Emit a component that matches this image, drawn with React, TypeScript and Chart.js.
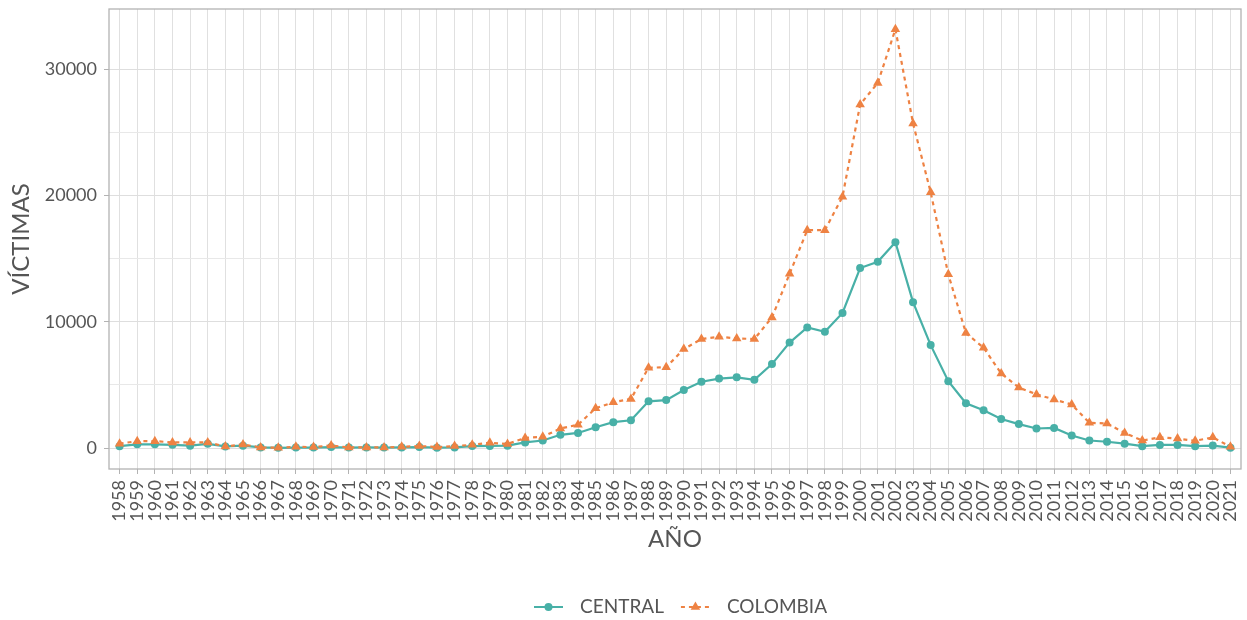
import React, { useEffect, useRef } from "react";
import { Chart, registerables } from "chart.js";

Chart.register(...registerables);

const years = [
  1958, 1959, 1960, 1961, 1962, 1963, 1964, 1965, 1966, 1967, 1968, 1969, 1970,
  1971, 1972, 1973, 1974, 1975, 1976, 1977, 1978, 1979, 1980, 1981, 1982, 1983,
  1984, 1985, 1986, 1987, 1988, 1989, 1990, 1991, 1992, 1993, 1994, 1995, 1996,
  1997, 1998, 1999, 2000, 2001, 2002, 2003, 2004, 2005, 2006, 2007, 2008, 2009,
  2010, 2011, 2012, 2013, 2014, 2015, 2016, 2017, 2018, 2019, 2020, 2021,
];

const central = [
  150, 300, 300, 260, 190, 340, 130, 190, 50, 20, 40, 40, 80,
  40, 50, 40, 50, 80, 30, 50, 160, 170, 190, 450, 600, 1050,
  1200, 1650, 2050, 2200, 3700, 3800, 4600, 5250, 5500, 5600, 5400, 6650, 8350,
  9550, 9200, 10700, 14250, 14750, 16300, 11550, 8150, 5300, 3550, 3000, 2300, 1900,
  1550, 1600, 1000, 600, 500, 350, 150, 250, 250, 150, 200, 30,
];

const colombia = [
  350, 550, 550, 450, 450, 450, 130, 290, 50, 30, 100, 80, 210,
  50, 50, 50, 100, 160, 80, 160, 260, 420, 330, 800, 900, 1550,
  1850, 3150, 3630, 3890, 6360, 6400, 7840, 8630, 8810, 8680, 8630, 10340, 13800,
  17250, 17250, 19900, 27200, 28900, 33150, 25700, 20250, 13750, 9100, 7950, 5900, 4800,
  4250, 3850, 3450, 2000, 1950, 1200, 600, 850, 750, 580, 850, 100,
];

const yTickValues = [0, 5000, 10000, 15000, 20000, 25000, 30000];
const yLabeled = [0, 10000, 20000, 30000];

const seriesNames = ["CENTRAL", "COLOMBIA"];
const TEAL = "#48b0a7";
const ORANGE = "#ee8243";
const TEXT = "#555555";
const FONT = "Lato, 'Open Sans', sans-serif";

const framePlugin = {
  id: "frameAndLegend",
  afterDraw(chart: any) {
    const { ctx, chartArea } = chart;
    ctx.save();
    ctx.strokeStyle = "#b3b3b3";
    ctx.lineWidth = 1.3;
    ctx.strokeRect(
      chartArea.left,
      chartArea.top,
      chartArea.right - chartArea.left,
      chartArea.bottom - chartArea.top
    );

    const y = 607;
    ctx.font = `19px ${FONT}`;
    ctx.textBaseline = "middle";
    ctx.textAlign = "left";
    const keyW = 29;
    const gap = 17;
    const w1 = ctx.measureText(seriesNames[0]).width;
    const w2 = ctx.measureText(seriesNames[1]).width;
    const total = keyW + gap + w1 + gap + keyW + gap + w2;
    let x = 534 + (293 - total) / 2;

    ctx.strokeStyle = TEAL;
    ctx.lineWidth = 2;
    ctx.setLineDash([]);
    ctx.beginPath();
    ctx.moveTo(x, y);
    ctx.lineTo(x + keyW, y);
    ctx.stroke();
    ctx.fillStyle = TEAL;
    ctx.beginPath();
    ctx.arc(x + keyW / 2, y, 4, 0, Math.PI * 2);
    ctx.fill();
    x += keyW + gap;
    ctx.fillStyle = TEXT;
    ctx.fillText(seriesNames[0], x, y);
    x += w1 + gap;

    ctx.strokeStyle = ORANGE;
    ctx.setLineDash([4, 4]);
    ctx.beginPath();
    ctx.moveTo(x, y);
    ctx.lineTo(x + keyW, y);
    ctx.stroke();
    ctx.setLineDash([]);
    ctx.fillStyle = ORANGE;
    const cx = x + keyW / 2;
    const r = 5.5;
    ctx.beginPath();
    ctx.moveTo(cx, y - r);
    ctx.lineTo(cx + r * Math.sin((2 * Math.PI) / 3), y - r * Math.cos((2 * Math.PI) / 3));
    ctx.lineTo(cx + r * Math.sin((4 * Math.PI) / 3), y - r * Math.cos((4 * Math.PI) / 3));
    ctx.closePath();
    ctx.fill();
    x += keyW + gap;
    ctx.fillStyle = TEXT;
    ctx.fillText(seriesNames[1], x, y);
    ctx.restore();
  },
};

export default function App() {
  const canvasRef = useRef<HTMLCanvasElement | null>(null);

  useEffect(() => {
    if (!canvasRef.current) return;
    const chart = new Chart(canvasRef.current, {
      type: "line",
      data: {
        datasets: [
          {
            label: seriesNames[0],
            data: years.map((yr, i) => ({ x: yr, y: central[i] })),
            borderColor: TEAL,
            backgroundColor: TEAL,
            borderWidth: 2.2,
            pointRadius: 4,
            pointBorderWidth: 0,
            pointStyle: "circle",
            tension: 0,
            order: 2,
          },
          {
            label: seriesNames[1],
            data: years.map((yr, i) => ({ x: yr, y: colombia[i] })),
            borderColor: ORANGE,
            backgroundColor: ORANGE,
            borderWidth: 2.2,
            borderDash: [4, 4],
            pointRadius: 5.5,
            pointBorderWidth: 0,
            pointStyle: "triangle",
            tension: 0,
            order: 1,
          },
        ],
      },
      options: {
        responsive: false,
        animation: false,
        layout: { padding: { left: 0, right: 6, top: 9, bottom: 0 } },
        plugins: {
          legend: { display: false },
          tooltip: { enabled: false },
        },
        scales: {
          x: {
            type: "linear",
            min: 1957.4,
            max: 2021.6,
            afterBuildTicks: (scale: any) => {
              scale.ticks = years.map((v) => ({ value: v }));
            },
            afterFit: (scale: any) => {
              scale.height = 151;
              scale.paddingLeft = 0;
              scale.paddingRight = 0;
            },
            ticks: {
              autoSkip: false,
              minRotation: 90,
              maxRotation: 90,
              padding: 6,
              color: TEXT,
              font: { family: FONT, size: 18 },
              callback: (v: any) => String(v),
            },
            grid: {
              color: "#e0e0e0",
              lineWidth: 1,
              tickColor: "#b3b3b3",
              tickLength: 5,
              drawTicks: true,
            },
            border: { display: false },
            title: {
              display: true,
              text: "AÑO",
              color: TEXT,
              font: { family: FONT, size: 24 },
              padding: { top: 0, bottom: 66 },
            },
          },
          y: {
            type: "linear",
            min: -1655,
            max: 34755,
            afterBuildTicks: (scale: any) => {
              scale.ticks = yTickValues.map((v) => ({ value: v }));
            },
            afterFit: (scale: any) => {
              scale.width = 109;
              scale.paddingTop = 0;
              scale.paddingBottom = 0;
            },
            ticks: {
              padding: 7,
              color: TEXT,
              font: { family: FONT, size: 18 },
              callback: (v: any) => (yLabeled.includes(v) ? String(v) : ""),
            },
            grid: {
              color: (c: any) =>
                c.tick && yLabeled.includes(c.tick.value) ? "#dedede" : "#e8e8e8",
              lineWidth: 1,
              tickColor: (c: any) =>
                c.tick && yLabeled.includes(c.tick.value) ? "#b3b3b3" : "rgba(0,0,0,0)",
              tickLength: 5,
            },
            border: { display: false },
            title: {
              display: true,
              text: "VÍCTIMAS",
              color: TEXT,
              font: { family: FONT, size: 24 },
              padding: { top: 7, bottom: 0 },
            },
          },
        },
      },
      plugins: [framePlugin],
    });
    return () => chart.destroy();
  }, []);

  return (
    <div style={{ position: "fixed", left: 0, top: 0, width: 1247, height: 620, background: "#fff" }}>
      <canvas ref={canvasRef} width={1247} height={620} style={{ display: "block" }} />
    </div>
  );
}
